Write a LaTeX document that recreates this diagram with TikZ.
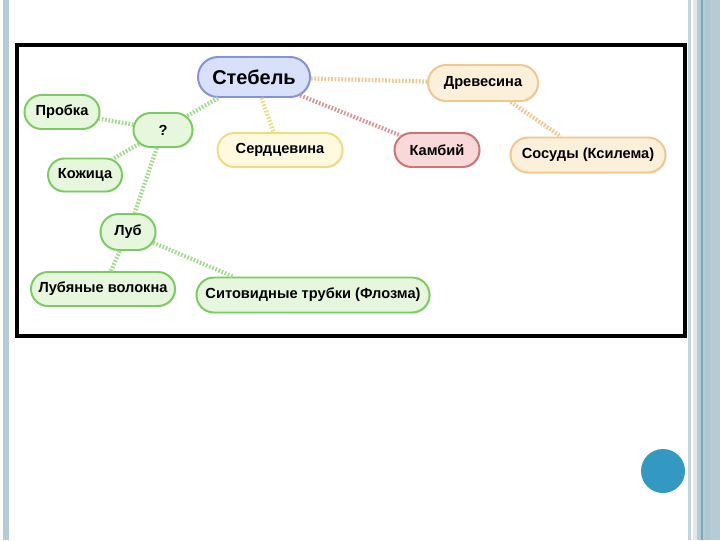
\documentclass[tikz,border=0pt]{standalone}
\usepackage{fontspec}
\setmainfont{Liberation Sans}
\usetikzlibrary{shapes.misc,shadows}

\definecolor{stripe}{HTML}{B5CCD4}
\definecolor{stripedark}{HTML}{7AAABB}
\definecolor{dotblue}{HTML}{3399C0}
\definecolor{grline}{HTML}{7CCB62}
\definecolor{grfill}{HTML}{E6F7DE}
\definecolor{yeline}{HTML}{EEDD80}
\definecolor{yefill}{HTML}{FFFADF}
\definecolor{orline}{HTML}{EEC88E}
\definecolor{orfill}{HTML}{FDF0DA}
\definecolor{reline}{HTML}{CC7474}
\definecolor{refill}{HTML}{F8D8D8}
\definecolor{blline}{HTML}{8593D6}
\definecolor{blfill}{HTML}{D8E0FA}

\tikzset{
  part/.style={rounded rectangle, draw, line width=1.4pt, inner sep=0pt,
    font=\bfseries\fontsize{10.4}{12}\selectfont,
    drop shadow={opacity=0.15, shadow xshift=0.8pt, shadow yshift=-0.8pt}},
  green/.style={part, draw=grline, fill=grfill},
  yellow/.style={part, draw=yeline, fill=yefill},
  orange/.style={part, draw=orline, fill=orfill},
  red/.style={part, draw=reline, fill=refill},
  blue/.style={part, draw=blline, fill=blfill},
  link/.style={line width=3pt, dash pattern=on 1.2pt off 1.2pt}
}

\begin{document}
\begin{tikzpicture}[x=0.025cm, y=-0.025cm]
\useasboundingbox[fill=white] (0,0) rectangle (720,540);
\fill[stripe] (3,0) rectangle (9,540);
\fill[stripe!80] (688,0) rectangle (691,540);
\fill[stripe!40] (693,0) rectangle (697,540);
\fill[stripe] (697,0) rectangle (720,540);
\fill[stripedark] (701,0) rectangle (703,540);
\fill[stripe!85!stripedark] (705,0) rectangle (710,540);
\fill[dotblue] (663,471) circle[radius=22];
\draw[line width=2.8pt] (17,45) rectangle (685,336);

\node[blue, minimum width=2.8cm, minimum height=1cm, font=\bfseries\fontsize{14.2}{16}\selectfont] (stem) at (254,77) {Стебель};
\node[green, minimum width=1.475cm, minimum height=0.85cm] (q) at (163,130) {?};
\node[green, minimum width=1.875cm, minimum height=0.85cm] (cork) at (62,112) {Пробка};
\node[green, minimum width=1.85cm, minimum height=0.825cm] (skin) at (85,175) {Кожица};
\node[yellow, minimum width=3.125cm, minimum height=0.85cm] (pith) at (280,150) {Сердцевина};
\node[orange, minimum width=2.75cm, minimum height=0.9cm] (wood) at (483,83) {Древесина};
\node[red, minimum width=2.125cm, minimum height=0.85cm] (cambium) at (437,150) {Камбий};
\node[orange, minimum width=3.875cm, minimum height=0.875cm] (xylem) at (588,155) {Сосуды (Ксилема)};
\node[green, minimum width=1.375cm, minimum height=0.9cm] (bast) at (128,232) {Луб};
\node[green, minimum width=3.6cm, minimum height=0.85cm] (fibres) at (103,289) {Лубяные волокна};
\node[green, minimum width=5.825cm, minimum height=0.875cm] (phloem) at (313,295) {Ситовидные трубки (Флозма)};

\draw[link, grline!70] (stem) -- (q);
\draw[link, grline!70] (q) -- (cork);
\draw[link, grline!70] (q) -- (skin);
\draw[link, grline!70] (q) -- (bast);
\draw[link, grline!70] (bast) -- (fibres);
\draw[link, grline!70] (bast) -- (phloem.167);
\draw[link, yeline] (stem) -- (pith);
\draw[link, reline!75] (stem) -- (cambium);
\draw[link, orline] (stem) -- (wood);
\draw[link, orline] (wood) -- (xylem);
\end{tikzpicture}
\end{document}
